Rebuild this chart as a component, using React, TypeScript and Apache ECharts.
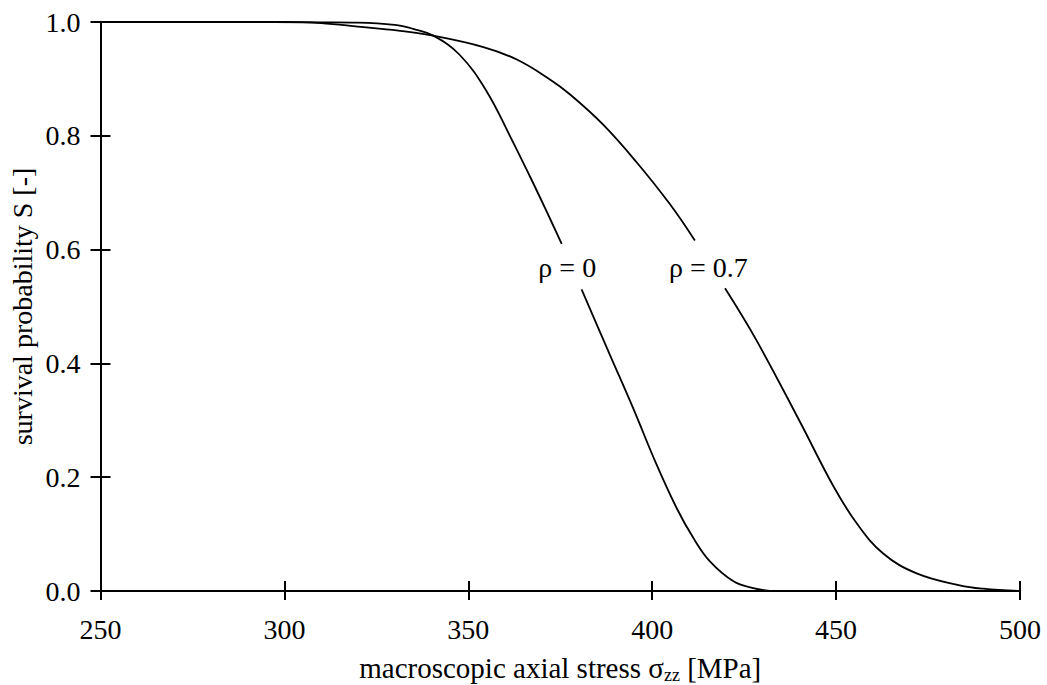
import React, { useEffect, useRef } from "react";
import * as echarts from "echarts";

// x: macroscopic axial stress [MPa], y: survival probability S
const rho0Upper: [number, number][] = [
  [250, 1.0], [280, 1.0], [300, 1.0], [310, 0.9995], [320, 0.999], [330, 0.995],
  [335, 0.988], [340.5, 0.976], [347.7, 0.942], [355.0, 0.878], [361.3, 0.800],
  [366.8, 0.728], [371.3, 0.667], [375.4, 0.610],
];
const rho0Lower: [number, number][] = [
  [380.8, 0.530], [388.5, 0.415], [394.9, 0.320], [401.2, 0.222], [406.7, 0.145],
  [411.2, 0.093], [415.7, 0.052], [422.1, 0.017], [427.5, 0.005], [432.0, 0.0],
];
const rho07Upper: [number, number][] = [
  [250, 1.0], [290, 1.0], [305, 0.9995], [310, 0.998], [320, 0.992], [331, 0.985],
  [339.6, 0.977], [354.1, 0.956], [363.2, 0.934], [372.2, 0.899], [377.6, 0.873],
  [386.6, 0.820], [395.7, 0.754], [404.8, 0.680], [411.6, 0.616],
];
const rho07Lower: [number, number][] = [
  [419.8, 0.532], [428.4, 0.440], [440.2, 0.297], [449.2, 0.185], [455.6, 0.119],
  [462.8, 0.066], [471.9, 0.031], [483.6, 0.010], [490.0, 0.004], [500.0, 0.0],
];
const curveLabels: [number, number, string][] = [
  [376.9, 0.5685, "ρ = 0"],
  [415.3, 0.5685, "ρ = 0.7"],
];
const xTicks = { min: 250, max: 500, interval: 50 };
const yTicks = { min: 0, max: 1, interval: 0.2 };

const FONT = "'Liberation Serif', 'DejaVu Serif', serif";

export default function App() {
  const ref = useRef<HTMLDivElement>(null);
  useEffect(() => {
    if (!ref.current) return;
    const chart = echarts.init(ref.current, null, { renderer: "svg" });
    const lineStyle = { color: "#000", width: 1.8 };
    const curve = (data: [number, number][]) => ({
      type: "line",
      data,
      smooth: 0.4,
      showSymbol: false,
      symbol: "none",
      lineStyle,
      silent: true,
      z: 3,
    });
    const axisCommonX = {
      type: "value",
      min: xTicks.min,
      max: xTicks.max,
      interval: xTicks.interval,
      splitLine: { show: false },
    };
    const axisCommonY = {
      type: "value",
      min: yTicks.min,
      max: yTicks.max,
      interval: yTicks.interval,
      splitLine: { show: false },
    };
    chart.setOption({
      animation: false,
      backgroundColor: "#fff",
      grid: {
        left: 100.5,
        right: 27,
        top: 22,
        bottom: 94,
        containLabel: false,
        outerBoundsMode: "none",
      },
      xAxis: [
        {
          ...axisCommonX,
          position: "bottom",
          name: "{a|macroscopic axial stress σ}{sub|zz}{a| [MPa]}",
          nameLocation: "middle",
          nameGap: 61,
          nameMoveOverlap: false,
          nameTextStyle: {
            rich: {
              a: { fontFamily: FONT, fontSize: 29, color: "#000" },
              sub: { fontFamily: FONT, fontSize: 18, color: "#000", padding: [14, 0, 0, 0] },
            },
          },
          axisLine: { show: true, lineStyle: { color: "#000", width: 2 } },
          axisTick: { show: true, inside: false, length: 9, lineStyle: { color: "#000", width: 2 } },
          axisLabel: {
            show: true,
            margin: 24,
            fontFamily: FONT,
            fontSize: 28,
            color: "#000",
          },
        },
        {
          ...axisCommonX,
          position: "bottom",
          axisLine: { show: false },
          axisTick: { show: true, inside: true, length: 10, lineStyle: { color: "#000", width: 2 } },
          axisLabel: { show: false },
        },
      ],
      yAxis: [
        {
          ...axisCommonY,
          position: "left",
          name: "survival probability S [-]",
          nameLocation: "middle",
          nameGap: 64,
          nameMoveOverlap: false,
          nameRotate: 90,
          nameTextStyle: { fontFamily: FONT, fontSize: 28, color: "#000" },
          axisLine: { show: true, lineStyle: { color: "#000", width: 2 } },
          axisTick: { show: true, inside: false, length: 10, lineStyle: { color: "#000", width: 2 } },
          axisLabel: {
            show: true,
            margin: 20,
            fontFamily: FONT,
            fontSize: 28,
            color: "#000",
            formatter: (v: number) => v.toFixed(1),
          },
        },
        {
          ...axisCommonY,
          position: "left",
          axisLine: { show: false },
          axisTick: { show: true, inside: true, length: 10, lineStyle: { color: "#000", width: 2 } },
          axisLabel: { show: false },
        },
      ],
      series: [
        curve(rho0Upper),
        curve(rho0Lower),
        curve(rho07Upper),
        curve(rho07Lower),
        {
          type: "scatter",
          data: curveLabels,
          symbolSize: 1,
          itemStyle: { opacity: 0 },
          silent: true,
          label: {
            show: true,
            position: "inside",
            formatter: (p: any) => p.data[2],
            fontFamily: FONT,
            fontSize: 28,
            color: "#000",
            opacity: 1,
            textBorderWidth: 0,
          },
        },
      ],
    });
    return () => chart.dispose();
  }, []);
  return (
    <div
      ref={ref}
      style={{ position: "fixed", left: 0, top: 0, width: 1047, height: 685, background: "#fff" }}
    />
  );
}
